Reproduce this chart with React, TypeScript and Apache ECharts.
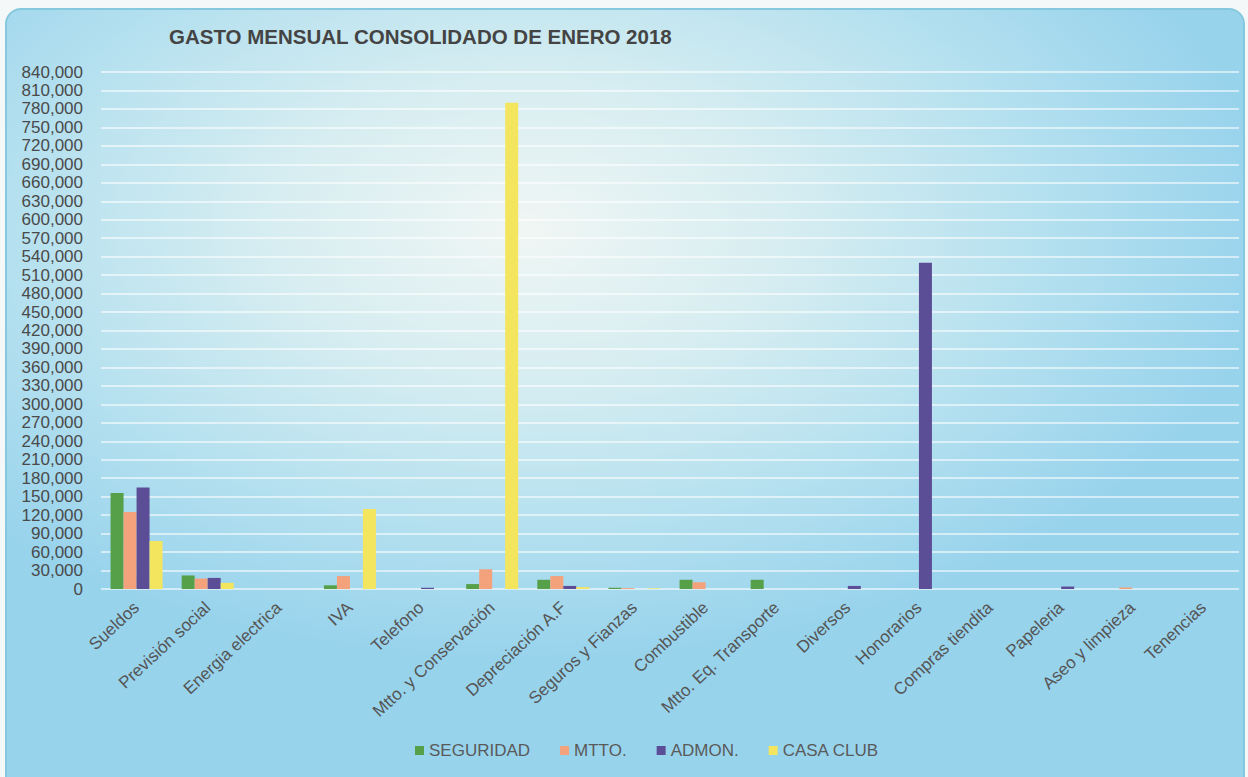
import React, { useEffect, useRef } from "react";
import * as echarts from "echarts";

const categories = [
  "Sueldos",
  "Previsión social",
  "Energia electrica",
  "IVA",
  "Telefono",
  "Mtto. y Conservación",
  "Depreciación A.F",
  "Seguros y Fianzas",
  "Combustible",
  "Mtto. Eq. Transporte",
  "Diversos",
  "Honorarios",
  "Compras tiendita",
  "Papeleria",
  "Aseo y limpieza",
  "Tenencias",
];

const seguridad = [156000, 22000, 0, 6000, 0, 8000, 15000, 2000, 15000, 15000, 0, 0, 0, 0, 0, 0];
const mtto = [125000, 17000, 0, 21000, 0, 32000, 21000, 1500, 11000, 0, 0, 0, 0, 0, 2500, 0];
const admon = [165000, 18000, 0, 0, 2000, 0, 5000, 0, 0, 0, 5000, 530000, 0, 4000, 0, 0];
const casaClub = [78000, 10000, 0, 130000, 0, 790000, 3000, 1000, 0, 0, 0, 0, 0, 0, 0, 0];

const seriesNames = ["SEGURIDAD", "MTTO.", "ADMON.", "CASA CLUB"];
const seriesColors = ["#55a049", "#f4a27c", "#5b4e96", "#f4e55e"];

export default function App() {
  const ref = useRef<HTMLDivElement>(null);

  useEffect(() => {
    if (!ref.current) return;
    const chart = echarts.init(ref.current, undefined, { renderer: "svg" });
    const data = [seguridad, mtto, admon, casaClub];
    chart.setOption({
      animation: false,
      backgroundColor: "transparent",
      title: {
        text: "GASTO MENSUAL CONSOLIDADO DE ENERO 2018",
        left: 164,
        top: 21,
        textStyle: {
          fontFamily: "Liberation Sans, Arial, sans-serif",
          fontSize: 20.5,
          fontWeight: "bold",
          color: "#444",
        },
      },
      legend: {
        data: seriesNames,
        left: 410,
        top: 737,
        itemWidth: 9,
        itemHeight: 9,
        itemGap: 30,
        itemStyle: { borderWidth: 0 },
        icon: "rect",
        textStyle: {
          fontFamily: "Liberation Sans, Arial, sans-serif",
          fontSize: 17,
          color: "#5a5a5a",
        },
      },
      grid: { left: 101, right: 9, top: 72, bottom: 188, containLabel: false },
      xAxis: {
        type: "category",
        data: categories,
        axisLine: { show: false },
        axisTick: { show: false },
        axisLabel: {
          rotate: 43,
          interval: 0,
          margin: 16,
          fontFamily: "Liberation Sans, Arial, sans-serif",
          fontSize: 17,
          color: "#555",
        },
      },
      yAxis: {
        type: "value",
        min: 0,
        max: 840000,
        interval: 30000,
        axisLine: { show: false },
        axisTick: { show: false },
        axisLabel: {
          margin: 18,
          fontFamily: "Liberation Sans, Arial, sans-serif",
          fontSize: 17,
          color: "#4a4a4a",
          formatter: (v: number) => v.toLocaleString("en-US"),
        },
        splitLine: { lineStyle: { color: "rgba(255,255,255,0.75)", width: 1.5 } },
      },
      series: seriesNames.map((name, i) => ({
        name,
        type: "bar",
        data: data[i],
        barWidth: 13,
        barGap: "0%",
        itemStyle: { color: seriesColors[i] },
      })),
    });
    return () => chart.dispose();
  }, []);

  return (
    <div
      style={{
        position: "fixed",
        left: 0,
        top: 0,
        width: 1248,
        height: 777,
        background: "#f4f8f8",
        overflow: "hidden",
      }}
    >
      <div
        style={{
          position: "absolute",
          left: 5,
          top: 8,
          width: 1236,
          height: 780,
          borderRadius: 16,
          border: "2px solid #86c9de",
          background:
            "radial-gradient(ellipse 60% 55% at 42% 28%, #f0f6f4 0%, #d6edf1 35%, #b4e0ef 70%, #98d3ec 100%)",
        }}
      />
      <div ref={ref} style={{ position: "absolute", left: 0, top: 0, width: 1248, height: 777 }} />
    </div>
  );
}
